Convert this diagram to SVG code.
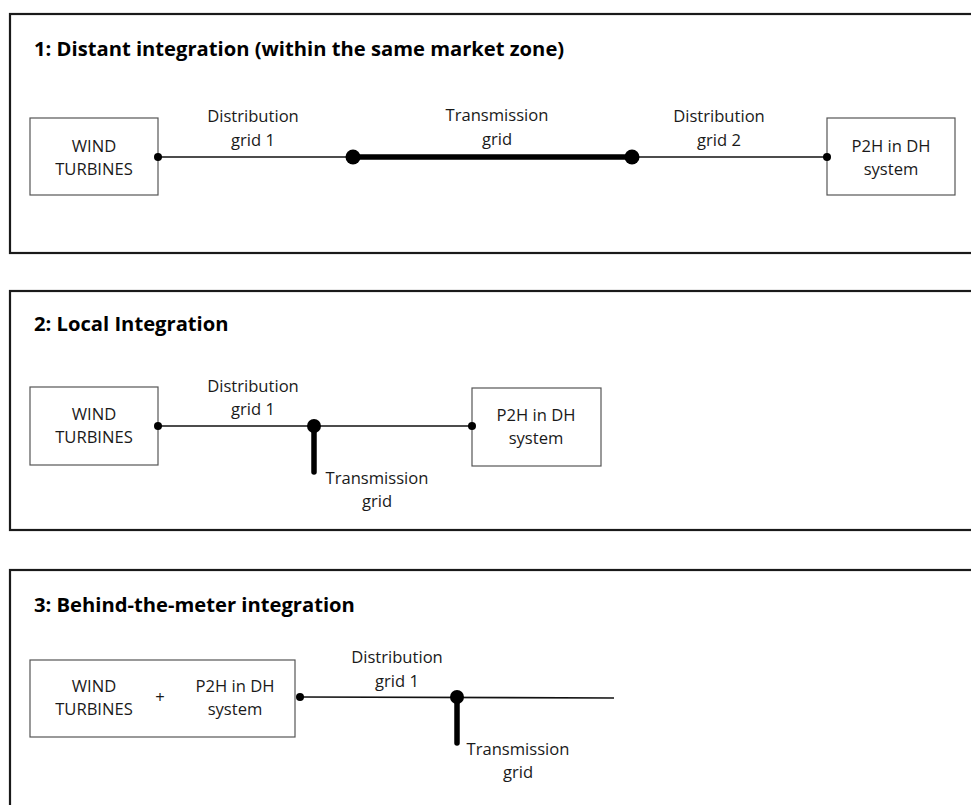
<svg xmlns="http://www.w3.org/2000/svg" width="971" height="805" viewBox="0 0 971 805">
<defs>
<style>
.panel{fill:#fff;stroke:#1a1a1a;stroke-width:2.2}
.box{fill:#fff;stroke:#555;stroke-width:1.2}
.title{font-family:"Open Sans","Noto Sans",sans-serif;font-weight:bold;font-size:20.2px;fill:#000}
.lbl{font-family:"Open Sans","Noto Sans",sans-serif;font-size:16.6px;fill:#1a1a1a;text-anchor:middle}
.thin{stroke:#111;stroke-width:1.7;fill:none}
.thick{stroke:#000;stroke-width:5.5;fill:none;stroke-linecap:round}
.dot{fill:#000}
</style>
</defs>
<rect width="971" height="805" fill="#fff"/>
<g id="panel1">
<rect class="panel" x="10" y="14" width="1000" height="239"/>
<text class="title" x="34" y="56">1: Distant integration (within the same market zone)</text>
</g>
<g id="panel2">
<rect class="panel" x="10" y="291" width="1000" height="239"/>
<text class="title" x="34" y="331">2: Local Integration</text>
</g>
<g id="panel3">
<rect class="panel" x="10" y="570" width="1000" height="260"/>
<text class="title" x="34" y="612">3: Behind-the-meter integration</text>
</g>
<g id="wind1">
<rect class="box" x="30" y="118" width="128" height="77"/>
<text class="lbl" x="94" y="152">WIND</text>
<text class="lbl" x="94" y="175">TURBINES</text>
</g>
<g id="p2h1">
<rect class="box" x="827" y="118" width="128" height="77"/>
<text class="lbl" x="891" y="152">P2H in DH</text>
<text class="lbl" x="891" y="175">system</text>
</g>
<g id="wind2">
<rect class="box" x="30" y="387" width="128" height="78"/>
<text class="lbl" x="94" y="420">WIND</text>
<text class="lbl" x="94" y="443">TURBINES</text>
</g>
<g id="p2h2">
<rect class="box" x="472" y="388" width="129" height="78"/>
<text class="lbl" x="536" y="421">P2H in DH</text>
<text class="lbl" x="536" y="444">system</text>
</g>
<g id="combo3">
<rect class="box" x="30" y="660" width="265" height="77"/>
<text class="lbl" x="94" y="692">WIND</text>
<text class="lbl" x="94" y="715">TURBINES</text>
<text class="lbl" x="160" y="703">+</text>
<text class="lbl" x="235" y="692">P2H in DH</text>
<text class="lbl" x="235" y="715">system</text>
</g>
<g id="connectors">
<line class="thin" x1="158" y1="157" x2="353" y2="157"/>
<line class="thick" x1="353" y1="157" x2="632" y2="157"/>
<line class="thin" x1="632" y1="157" x2="827" y2="157"/>
<circle class="dot" cx="158" cy="157" r="4"/>
<circle class="dot" cx="353" cy="157" r="7.5"/>
<circle class="dot" cx="632" cy="157" r="7.5"/>
<circle class="dot" cx="827" cy="157" r="4"/>
<text class="lbl" x="253" y="122">Distribution</text>
<text class="lbl" x="253" y="146">grid 1</text>
<text class="lbl" x="497" y="121">Transmission</text>
<text class="lbl" x="497" y="145">grid</text>
<text class="lbl" x="719" y="122">Distribution</text>
<text class="lbl" x="719" y="146">grid 2</text>

<line class="thin" x1="158" y1="426" x2="472" y2="426"/>
<line class="thick" x1="314" y1="426" x2="314" y2="472"/>
<circle class="dot" cx="158" cy="426" r="4"/>
<circle class="dot" cx="314" cy="426" r="7"/>
<circle class="dot" cx="472" cy="426" r="4"/>
<text class="lbl" x="253" y="392">Distribution</text>
<text class="lbl" x="253" y="415">grid 1</text>
<text class="lbl" x="377" y="484">Transmission</text>
<text class="lbl" x="377" y="507">grid</text>

<line class="thin" x1="300" y1="697" x2="614" y2="698"/>
<line class="thick" x1="457" y1="697" x2="457" y2="743"/>
<circle class="dot" cx="300" cy="697" r="4"/>
<circle class="dot" cx="457" cy="697" r="7"/>
<text class="lbl" x="397" y="663">Distribution</text>
<text class="lbl" x="397" y="687">grid 1</text>
<text class="lbl" x="518" y="755">Transmission</text>
<text class="lbl" x="518" y="778">grid</text>
</g>
</svg>
